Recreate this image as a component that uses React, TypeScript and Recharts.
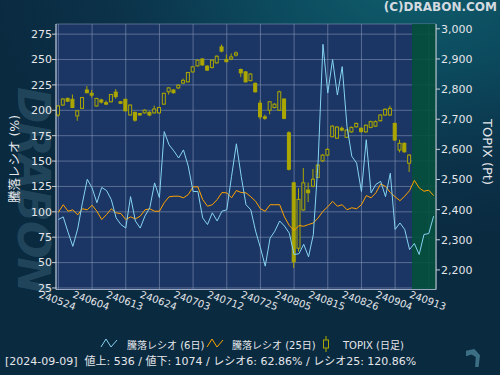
import React from 'react';
import { ComposedChart, Bar, Line, XAxis, YAxis, CartesianGrid, ReferenceArea } from 'recharts';

const dates = [
  '240524','240527','240528','240529','240530','240531','240603','240604','240605','240606',
  '240607','240610','240611','240612','240613','240614','240617','240618','240619','240620',
  '240621','240624','240625','240626','240627','240628','240701','240702','240703','240704',
  '240705','240708','240709','240710','240711','240712','240716','240717','240718','240719',
  '240722','240723','240725','240726','240729','240730','240731','240801','240802','240805',
  '240806','240807','240808','240809','240813','240814','240815','240816','240819','240820',
  '240821','240822','240823','240826','240827','240828','240829','240830','240902','240903',
  '240904','240905','240906','240909','240910','240911','240912','240913','240917',
];
const tickDates = ['240524','240604','240613','240624','240703','240712','240725','240805','240815','240826','240904','240913'];

const ratio6 = [
  92.4,95,80,66,83,109,132,123.6,109,124,
  121,112,94,87.5,84,115,91,84,96,104,
  128.5,114,179,166,160,153,161,145,120,120,
  94,87.5,99,91,100.6,102,135,167,135,107,
  102,81,64.6,46.5,74,81,91,86,79,58,
  58.7,68,55.7,77.7,150,265,217,250,215,243,
  184,154.7,148,120,171,118.7,127,130,115,138,
  82.6,89,82.6,62.86,68.8,58,77.7,78.6,95.7,
];
const ratio25 = [
  99.6,107,100.6,102,97,103,102,106.5,100.6,92.4,
  97.3,103,99,98.3,92.4,95,93,95.7,102,103,
  100.6,100.6,109,114.8,115.4,115.4,113.8,117,124.6,124.6,
  112,105.5,107,112,119,118.7,113.8,121,119,118.7,
  114.8,110.4,103,100.6,107,107,107,95,86.5,81.6,
  86.5,85.8,87.5,89,94,100.6,105,110.4,105.5,107,
  102,104,103,107,116,113.8,118.7,127.5,125,119,
  114.8,111,115.4,120.86,131,123.6,120.3,121.3,116,
];

const topixOpen = [
  2714,2747,2769,2766,2711,2736,2797,2786,2744,2764,
  2755,2758,2790,2758,2766,2714,2723,2719,2721,2723,
  2721,2721,2750,2791,2797,2804,2820,2824,2857,2877,
  2900,2876,2872,2887,2940,2898,2900,2913,2865,2857,
  2828,2819,2753,2708,2730,2739,2730,2767,2655,2489,
  2272,2399,2465,2478,2507,2562,2581,2642,2637,2670,
  2640,2658,2675,2670,2658,2673,2677,2695,2714,2714,
  2686,2598,2620,2554,
];
const topixHigh = [
  2747,2770,2772,2782,2730,2774,2810,2797,2771,2768,
  2762,2784,2800,2760,2768,2749,2725,2721,2733,2726,
  2745,2741,2788,2806,2800,2816,2835,2857,2876,2898,
  2902,2880,2898,2912,2948,2915,2918,2925,2868,2860,
  2853,2822,2763,2715,2760,2753,2795,2769,2660,2492,
  2471,2538,2490,2535,2550,2584,2604,2680,2677,2676,
  2666,2676,2689,2673,2683,2695,2696,2717,2736,2745,
  2689,2632,2623,2584,
];
const topixLow = [
  2708,2745,2757,2737,2695,2734,2786,2772,2742,2752,
  2748,2756,2768,2751,2726,2712,2692,2712,2719,2710,
  2719,2719,2748,2782,2785,2800,2817,2822,2855,2875,
  2878,2861,2868,2885,2922,2889,2896,2908,2840,2822,
  2826,2789,2700,2698,2716,2736,2728,2700,2530,2207,
  2261,2396,2425,2474,2505,2558,2578,2640,2635,2660,
  2638,2655,2672,2656,2655,2670,2674,2692,2711,2711,
  2628,2590,2589,2525,
];
const topixClose = [
  2744,2767,2760,2739,2728,2772,2788,2780,2769,2757,
  2750,2782,2775,2753,2728,2747,2697,2714,2730,2714,
  2734,2739,2786,2804,2788,2813,2829,2855,2874,2896,
  2880,2863,2896,2909,2926,2891,2907,2920,2854,2824,
  2850,2791,2708,2703,2758,2750,2791,2703,2534,2227,
  2434,2489,2456,2501,2548,2581,2600,2677,2674,2664,
  2664,2673,2686,2659,2680,2692,2692,2714,2733,2736,
  2631,2620,2592,2581,
];

const leftTicks = [25, 50, 75, 100, 125, 150, 175, 200, 225, 250, 275];
const rightTicks = [2200, 2300, 2400, 2500, 2600, 2700, 2800, 2900, 3000];

const data = dates.map((d, i) => {
  const has = i < topixOpen.length;
  return {
    date: d,
    r6: ratio6[i],
    r25: ratio25[i],
    o: has ? topixOpen[i] : null,
    h: has ? topixHigh[i] : null,
    l: has ? topixLow[i] : null,
    c: has ? topixClose[i] : null,
    range: has ? [topixLow[i], topixHigh[i]] : null,
  };
});

const FONT = '"DejaVu Sans", "Noto Sans CJK JP", sans-serif';
const PLOT_BG = '#1b3664';
const CANDLE = '#aca700';
const BLUE = '#86d3f2';
const ORANGE = '#ffa200';
const TEXT = '#e4e6ea';

const Candle = (props: any) => {
  const { x, y, width, height, payload } = props;
  if (!payload || payload.o == null) return <g />;
  const { o, h, l, c } = payload;
  const hh = Math.abs(height);
  const top0 = Math.min(y, y + height);
  const ppu = hh / (h - l);
  const cx = x + width / 2;
  const top = top0 + (h - Math.max(o, c)) * ppu;
  const bot = top0 + (h - Math.min(o, c)) * ppu;
  const up = c >= o;
  return (
    <g>
      <line x1={cx} x2={cx} y1={top0} y2={top0 + hh} stroke={CANDLE} strokeWidth={1} />
      <rect x={cx - 1.5} y={top} width={3} height={Math.max(bot - top, 1)} fill={up ? PLOT_BG : CANDLE} stroke={CANDLE} strokeWidth={1} />
    </g>
  );
};

const XTick = (props: any) => {
  const { x, y, payload } = props;
  return (
    <g transform={`translate(${x - 1},${y + 3}) rotate(20)`}>
      <text x={0} y={0} dy="0.35em" textAnchor="middle" fill={TEXT} fontSize={10} fontFamily={FONT}>
        {payload.value}
      </text>
    </g>
  );
};

const fmtComma = (v: number) => v.toLocaleString('en-US');

export default function App() {
  return (
    <div
      style={{
        position: 'absolute',
        left: 0,
        top: 0,
        width: 500,
        height: 375,
        overflow: 'hidden',
        fontFamily: FONT,
        background: 'radial-gradient(ellipse 420px 260px at 82% -5%, #0f5e6c 0%, #0c4a5e 35%, #0b3249 70%, #0a2a40 100%)',
      }}
    >
      <div
        style={{
          position: 'absolute',
          left: 33,
          top: 190,
          transform: 'translate(-50%, -50%) rotate(90deg)',
          fontSize: 44,
          fontWeight: 'bold',
          fontStyle: 'italic',
          color: 'rgba(90,140,160,0.3)',
          whiteSpace: 'nowrap',
          letterSpacing: -1,
          lineHeight: 1,
        }}
      >
        DRABON
      </div>
      <div style={{ position: 'absolute', right: 3, top: 0, fontSize: 12, fontWeight: 'bold', color: '#d4dae0', lineHeight: '14px' }}>
        (C)DRABON.COM
      </div>
      <div style={{ position: 'absolute', left: 0, top: 0 }}>
        <ComposedChart width={500} height={375} data={data} margin={{ top: 24, right: 0, bottom: 55.5, left: 0 }}>
          <CartesianGrid yAxisId="left" fill={PLOT_BG} stroke="#8d9bbb" strokeOpacity={0.55} />
          <ReferenceArea yAxisId="left" x1="240910" x2="240917" fill="#03503a" fillOpacity={0.88} stroke="none" ifOverflow="visible" />
          <XAxis
            dataKey="date"
            type="category"
            ticks={tickDates}
            interval={0}
            tick={<XTick />}
            tickLine={false}
            axisLine={{ stroke: '#9aa6c0' }}
            height={30}
          />
          <YAxis
            yAxisId="left"
            orientation="left"
            domain={[23.5, 285]}
            ticks={leftTicks}
            width={56}
            tickSize={4}
            tickMargin={0}
            tick={{ fill: TEXT, fontSize: 11, fontFamily: FONT }}
            tickLine={{ stroke: '#c8ced8' }}
            axisLine={{ stroke: '#c8ced8' }}
            allowDataOverflow
          />
          <YAxis
            yAxisId="right"
            orientation="right"
            domain={[2135, 3016]}
            ticks={rightTicks}
            width={64}
            tickSize={4}
            tickMargin={1}
            tickFormatter={fmtComma}
            tick={{ fill: TEXT, fontSize: 11, fontFamily: FONT }}
            tickLine={{ stroke: '#c8ced8' }}
            axisLine={{ stroke: '#c8ced8' }}
            allowDataOverflow
          />
          <Bar yAxisId="right" dataKey="range" barSize={4} shape={<Candle />} isAnimationActive={false} />
          <Line yAxisId="left" dataKey="r25" stroke={ORANGE} strokeWidth={1} dot={false} activeDot={false} isAnimationActive={false} type="linear" />
          <Line yAxisId="left" dataKey="r6" stroke={BLUE} strokeWidth={1} dot={false} activeDot={false} isAnimationActive={false} type="linear" />
        </ComposedChart>
      </div>
      <div
        style={{
          position: 'absolute',
          left: 15,
          top: 159,
          transform: 'translate(-50%, -50%) rotate(-90deg)',
          fontSize: 12.5,
          color: TEXT,
          whiteSpace: 'nowrap',
          lineHeight: 1,
        }}
      >
        騰落レシオ (%)
      </div>
      <div
        style={{
          position: 'absolute',
          left: 487,
          top: 152,
          transform: 'translate(-50%, -50%) rotate(90deg)',
          fontSize: 13,
          color: TEXT,
          whiteSpace: 'nowrap',
          lineHeight: 1,
        }}
      >
        TOPIX (Pt)
      </div>
      <div style={{ position: 'absolute', left: 0, top: 336, width: 500, height: 14, fontSize: 10, color: TEXT }}>
        <svg width={18} height={12} style={{ position: 'absolute', left: 100, top: 1 }}>
          <polyline points="1,10 6,2 11,10 17,3" fill="none" stroke={BLUE} strokeWidth={1} />
        </svg>
        <span style={{ position: 'absolute', left: 127, top: 1, whiteSpace: 'nowrap' }}>騰落レシオ (6日)</span>
        <svg width={18} height={12} style={{ position: 'absolute', left: 206, top: 1 }}>
          <polyline points="1,10 6,2 11,10 17,3" fill="none" stroke={ORANGE} strokeWidth={1} />
        </svg>
        <span style={{ position: 'absolute', left: 232, top: 1, whiteSpace: 'nowrap' }}>騰落レシオ (25日)</span>
        <svg width={10} height={16} style={{ position: 'absolute', left: 321, top: 0 }}>
          <line x1={5} x2={5} y1={0} y2={16} stroke={CANDLE} strokeWidth={1} />
          <rect x={2.5} y={4} width={5} height={8} fill="#0b2a40" stroke={CANDLE} strokeWidth={1} />
        </svg>
        <span style={{ position: 'absolute', left: 343, top: 1, whiteSpace: 'nowrap' }}>TOPIX (日足)</span>
      </div>
      <div style={{ position: 'absolute', left: 5, top: 355, fontSize: 11, color: TEXT, whiteSpace: 'pre', lineHeight: '14px' }}>
        {'[2024-09-09]  値上: 536 / 値下: 1074 / レシオ6: 62.86% / レシオ25: 120.86%'}
      </div>
      <div
        style={{
          position: 'absolute',
          left: 466,
          top: 349,
          width: 14,
          height: 18,
          background: '#3d6f84',
          clipPath: 'polygon(0% 10%, 60% 0%, 100% 35%, 90% 100%, 65% 100%, 70% 45%, 40% 30%, 0% 40%)',
        }}
      />
    </div>
  );
}
